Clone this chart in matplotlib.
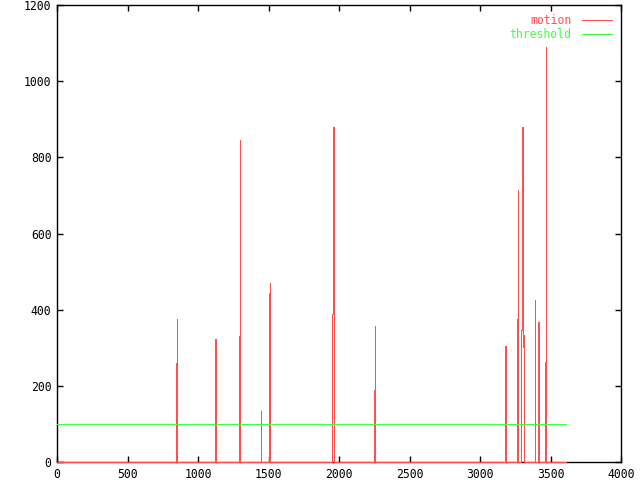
import matplotlib
matplotlib.use('Agg')
import matplotlib.pyplot as plt

# motion samples (x, value)
motion_x = [0, 843, 844, 851, 852, 1119, 1120, 1127, 1128, 1290, 1291, 1298, 1299,
            1446, 1447, 1448, 1502, 1503, 1510, 1511, 1949, 1950, 1957, 1965, 1966,
            2247, 2248, 2255, 2256, 3176, 3177, 3184, 3185, 3261, 3262, 3270, 3271,
            3290, 3291, 3298, 3305, 3312, 3313, 3389, 3390, 3391, 3410, 3411, 3418,
            3419, 3460, 3461, 3468, 3469, 3610]
motion_y = [0, 0, 261, 375, 0, 0, 323, 281, 0, 0, 331, 845, 0,
            0, 134, 0, 0, 443, 470, 0, 0, 389, 880, 123, 0,
            0, 190, 357, 0, 0, 304, 291, 0, 0, 375, 714, 0,
            0, 346, 880, 302, 333, 0, 0, 425, 0, 0, 367, 318,
            0, 0, 262, 1090, 0, 0]
threshold_x = [0, 3610]
threshold_y = [100, 100]

xticks = [0, 500, 1000, 1500, 2000, 2500, 3000, 3500, 4000]
yticks = [0, 200, 400, 600, 800, 1000, 1200]

plt.rcParams['font.family'] = ['DejaVu Sans Mono']
plt.rcParams['font.size'] = 8.3

fig = plt.figure(figsize=(6.4, 4.8), dpi=100)
ax = fig.add_axes([57/640, 1-462/480, (621-57)/640, (462-5)/480])

ax.plot(motion_x, motion_y, color='#ff5050', lw=0.72, label='motion',
        drawstyle='steps-post', antialiased=False, clip_on=False, zorder=3)
ax.plot(threshold_x, threshold_y, color='#40ff40', lw=0.72, label='threshold',
        antialiased=False, zorder=3)

ax.set_xlim(0, 4000)
ax.set_ylim(0, 1200)
ax.set_xticks(xticks)
ax.set_yticks(yticks)
ax.tick_params(direction='in', length=4, width=1, top=True, right=True, pad=4)
for s in ax.spines.values():
    s.set_linewidth(1)

ax.legend(loc='upper right', frameon=False, markerfirst=False, labelcolor='linecolor',
          handlelength=2.6, handletextpad=0.9, borderaxespad=0.4, labelspacing=0.05)

fig.savefig('out.png', dpi=100)
